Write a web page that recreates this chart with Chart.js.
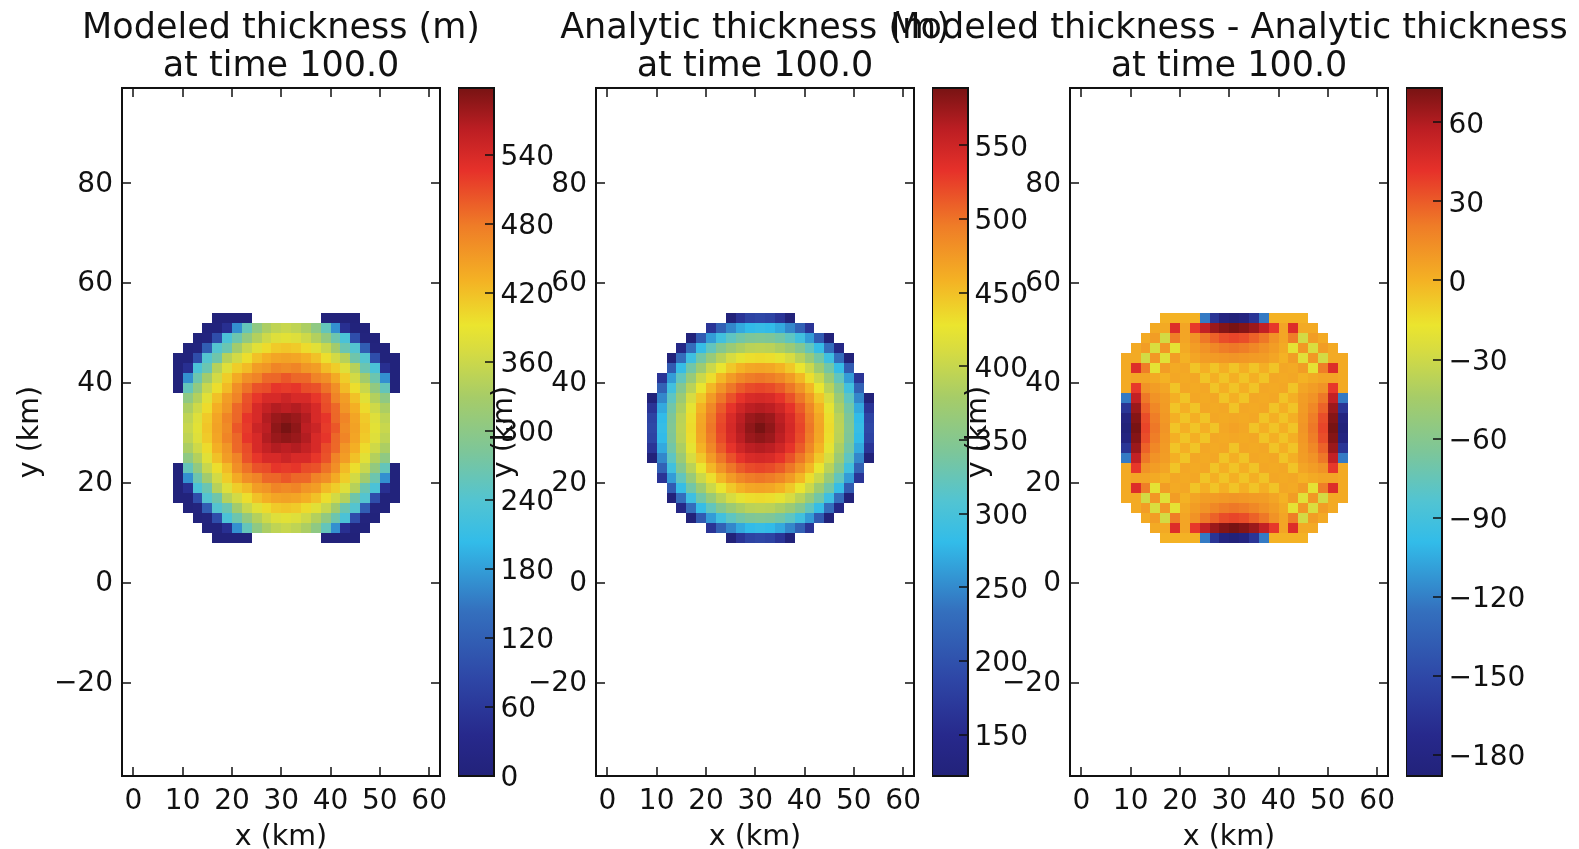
<!DOCTYPE html>
<html>
<head>
<meta charset="utf-8">
<script src="https://cdn.jsdelivr.net/npm/chart.js@4.4.0/dist/chart.umd.min.js"></script>
<style>
  html, body { margin: 0; padding: 0; background: #fff; overflow: hidden; }
  #page { position: relative; width: 1579px; height: 849px; overflow: hidden; background: #fff; }
  #page canvas { position: absolute; top: 0; }
</style>
</head>
<body>
<div id="page"></div>
<script>
const _ = null;

// cell centres (km), columns left to right, rows top to bottom
const xCells = [9, 11, 13, 15, 17, 19, 21, 23, 25, 27, 29, 31, 33, 35, 37, 39, 41, 43, 45, 47, 49, 51, 53];
const yCells = [53, 51, 49, 47, 45, 43, 41, 39, 37, 35, 33, 31, 29, 27, 25, 23, 21, 19, 17, 15, 13, 11, 9];
const cellSize = 2;

const xTicks = [0, 10, 20, 30, 40, 50, 60];
const yTicks = [-20, 0, 20, 40, 60, 80];
const modeledTicks = [0, 60, 120, 180, 240, 300, 360, 420, 480, 540];
const analyticTicks = [150, 200, 250, 300, 350, 400, 450, 500, 550];
const diffTicks = [-180, -150, -120, -90, -60, -30, 0, 30, 60];

const titles = [
  ['Modeled thickness (m)', 'at time 100.0'],
  ['Analytic thickness (m)', 'at time 100.0'],
  ['Modeled thickness - Analytic thickness', 'at time 100.0']
];

// modeled thickness (m)
const modeled = [
  [_,_,_,_,0,0,0,0,_,_,_,_,_,_,_,0,0,0,0,_,_,_,_],
  [_,_,_,3,3,45,169,257,303,334,350,357,350,334,303,257,169,45,3,3,_,_,_],
  [_,_,3,8,94,231,266,306,340,362,377,382,377,362,340,306,266,231,94,8,3,_,_],
  [_,3,8,116,241,264,324,357,381,399,412,416,412,399,381,357,324,264,241,116,8,3,_],
  [3,3,94,241,269,342,366,397,419,433,442,445,442,433,419,397,366,342,269,241,94,3,3],
  [3,45,231,264,342,378,410,424,449,455,470,465,470,455,449,424,410,378,342,264,231,45,3],
  [3,169,266,324,366,410,438,462,471,491,492,502,492,491,471,462,438,410,366,324,266,169,3],
  [3,257,306,357,397,424,462,485,505,509,524,520,524,509,505,485,462,424,397,357,306,257,3],
  [_,303,340,381,419,449,471,505,523,539,539,549,539,539,523,505,471,449,419,381,340,303,_],
  [_,334,362,399,433,455,491,509,539,555,567,561,567,555,539,509,491,455,433,399,362,334,_],
  [_,350,377,412,442,470,492,524,539,567,580,586,580,567,539,524,492,470,442,412,377,350,_],
  [_,357,382,416,445,465,502,520,549,561,586,598,586,561,549,520,502,465,445,416,382,357,_],
  [_,350,377,412,442,470,492,524,539,567,580,586,580,567,539,524,492,470,442,412,377,350,_],
  [_,334,362,399,433,455,491,509,539,555,567,561,567,555,539,509,491,455,433,399,362,334,_],
  [_,303,340,381,419,449,471,505,523,539,539,549,539,539,523,505,471,449,419,381,340,303,_],
  [3,257,306,357,397,424,462,485,505,509,524,520,524,509,505,485,462,424,397,357,306,257,3],
  [3,169,266,324,366,410,438,462,471,491,492,502,492,491,471,462,438,410,366,324,266,169,3],
  [3,45,231,264,342,378,410,424,449,455,470,465,470,455,449,424,410,378,342,264,231,45,3],
  [3,3,94,241,269,342,366,397,419,433,442,445,442,433,419,397,366,342,269,241,94,3,3],
  [_,3,8,116,241,264,324,357,381,399,412,416,412,399,381,357,324,264,241,116,8,3,_],
  [_,_,3,8,94,231,266,306,340,362,377,382,377,362,340,306,266,231,94,8,3,_,_],
  [_,_,_,3,3,45,169,257,303,334,350,357,350,334,303,257,169,45,3,3,_,_,_],
  [_,_,_,_,0,0,0,0,_,_,_,_,_,_,_,0,0,0,0,_,_,_,_]
];

// analytic thickness (m)
const analytic = [
  [_,_,_,_,_,_,_,_,122,164,183,188,183,164,122,_,_,_,_,_,_,_,_],
  [_,_,_,_,_,_,164,217,248,269,280,284,280,269,248,217,164,_,_,_,_,_,_],
  [_,_,_,_,122,211,261,294,318,334,343,346,343,334,318,294,261,211,122,_,_,_,_],
  [_,_,_,141,231,284,321,349,369,383,392,394,392,383,369,349,321,284,231,141,_,_,_],
  [_,_,122,231,291,334,366,392,411,424,432,434,432,424,411,392,366,334,291,231,122,_,_],
  [_,_,211,284,334,372,403,427,445,458,466,468,466,458,445,427,403,372,334,284,211,_,_],
  [_,164,261,321,366,403,432,455,474,487,495,498,495,487,474,455,432,403,366,321,261,164,_],
  [_,217,294,349,392,427,455,479,498,512,520,523,520,512,498,479,455,427,392,349,294,217,_],
  [122,248,318,369,411,445,474,498,517,532,542,545,542,532,517,498,474,445,411,369,318,248,122],
  [164,269,334,383,424,458,487,512,532,549,560,564,560,549,532,512,487,458,424,383,334,269,164],
  [183,280,343,392,432,466,495,520,542,560,574,579,574,560,542,520,495,466,432,392,343,280,183],
  [188,284,346,394,434,468,498,523,545,564,579,589,579,564,545,523,498,468,434,394,346,284,188],
  [183,280,343,392,432,466,495,520,542,560,574,579,574,560,542,520,495,466,432,392,343,280,183],
  [164,269,334,383,424,458,487,512,532,549,560,564,560,549,532,512,487,458,424,383,334,269,164],
  [122,248,318,369,411,445,474,498,517,532,542,545,542,532,517,498,474,445,411,369,318,248,122],
  [_,217,294,349,392,427,455,479,498,512,520,523,520,512,498,479,455,427,392,349,294,217,_],
  [_,164,261,321,366,403,432,455,474,487,495,498,495,487,474,455,432,403,366,321,261,164,_],
  [_,_,211,284,334,372,403,427,445,458,466,468,466,458,445,427,403,372,334,284,211,_,_],
  [_,_,122,231,291,334,366,392,411,424,432,434,432,424,411,392,366,334,291,231,122,_,_],
  [_,_,_,141,231,284,321,349,369,383,392,394,392,383,369,349,321,284,231,141,_,_,_],
  [_,_,_,_,122,211,261,294,318,334,343,346,343,334,318,294,261,211,122,_,_,_,_],
  [_,_,_,_,_,_,164,217,248,269,280,284,280,269,248,217,164,_,_,_,_,_,_],
  [_,_,_,_,_,_,_,_,122,164,183,188,183,164,122,_,_,_,_,_,_,_,_]
];

// modeled minus analytic (m)
const difference = [
  [_,_,_,_,0,0,0,0,-122,-164,-183,-188,-183,-164,-122,0,0,0,0,_,_,_,_],
  [_,_,_,3,3,45,5,40,55,65,70,73,70,65,55,40,5,45,3,3,_,_,_],
  [_,_,3,8,-28,20,5,12,22,28,34,36,34,28,22,12,5,20,-28,8,3,_,_],
  [_,3,8,-25,10,-20,3,8,12,16,20,22,20,16,12,8,3,-20,10,-25,8,3,_],
  [3,3,-28,10,-22,8,0,5,8,9,10,11,10,9,8,5,0,8,-22,10,-28,3,3],
  [3,45,20,-20,8,3,4,-6,1,-6,1,-6,1,-6,1,-6,4,3,8,-20,20,45,3],
  [3,5,5,3,0,4,3,4,-6,1,-6,1,-6,1,-6,4,3,4,0,3,5,5,3],
  [3,40,12,8,5,-6,4,3,4,-6,1,-6,1,-6,4,3,4,-6,5,8,12,40,3],
  [-122,55,22,12,8,1,-6,4,3,4,-6,1,-6,4,3,4,-6,1,8,12,22,55,-122],
  [-164,65,28,16,9,-6,1,-6,4,3,4,-6,4,3,4,-6,1,-6,9,16,28,65,-164],
  [-183,70,34,20,10,1,-6,1,-6,4,3,4,3,4,-6,1,-6,1,10,20,34,70,-183],
  [-188,73,36,22,11,-6,1,-6,1,-6,4,6,4,-6,1,-6,1,-6,11,22,36,73,-188],
  [-183,70,34,20,10,1,-6,1,-6,4,3,4,3,4,-6,1,-6,1,10,20,34,70,-183],
  [-164,65,28,16,9,-6,1,-6,4,3,4,-6,4,3,4,-6,1,-6,9,16,28,65,-164],
  [-122,55,22,12,8,1,-6,4,3,4,-6,1,-6,4,3,4,-6,1,8,12,22,55,-122],
  [3,40,12,8,5,-6,4,3,4,-6,1,-6,1,-6,4,3,4,-6,5,8,12,40,3],
  [3,5,5,3,0,4,3,4,-6,1,-6,1,-6,1,-6,4,3,4,0,3,5,5,3],
  [3,45,20,-20,8,3,4,-6,1,-6,1,-6,1,-6,1,-6,4,3,8,-20,20,45,3],
  [3,3,-28,10,-22,8,0,5,8,9,10,11,10,9,8,5,0,8,-22,10,-28,3,3],
  [_,3,8,-25,10,-20,3,8,12,16,20,22,20,16,12,8,3,-20,10,-25,8,3,_],
  [_,_,3,8,-28,20,5,12,22,28,34,36,34,28,22,12,5,20,-28,8,3,_,_],
  [_,_,_,3,3,45,5,40,55,65,70,73,70,65,55,40,5,45,3,3,_,_,_],
  [_,_,_,_,0,0,0,0,-122,-164,-183,-188,-183,-164,-122,0,0,0,0,_,_,_,_]
];

// jet-like colour map as it looks in the picture
const jetStops = [
  [0.00, '#22227a'], [0.06, '#27298c'], [0.14, '#2e46a6'], [0.24, '#3470be'],
  [0.34, '#32bce9'], [0.40, '#52c4d2'], [0.47, '#7cc69a'], [0.55, '#a6cc68'],
  [0.62, '#d8dc40'], [0.655, '#ebe52e'], [0.72, '#f4b224'], [0.80, '#ef7c27'],
  [0.88, '#e6312a'], [0.94, '#bc1e23'], [1.00, '#781313']
];

const ink = '#111';
const family = '"DejaVu Sans", sans-serif';
const panelLeft = [122, 596, 1070];
const plotW = 318;
const side = 341;
const tickLen = 9;

function rgb(hex) {
  return [1, 3, 5].map(i => parseInt(hex.slice(i, i + 2), 16));
}

function jet(t) {
  t = Math.max(0, Math.min(1, t));
  for (let i = 1; i < jetStops.length; i++) {
    const [t1, c1] = jetStops[i];
    const [t0, c0] = jetStops[i - 1];
    if (t <= t1) {
      const f = (t - t0) / (t1 - t0);
      const a = rgb(c0), b = rgb(c1);
      return 'rgb(' + a.map((v, k) => Math.round(v + (b[k] - v) * f)).join(',') + ')';
    }
  }
  return jetStops[jetStops.length - 1][1];
}

function fmt(v) {
  return String(v).replace('-', '\u2212');
}

const heatPlugin = {
  id: 'heat',
  beforeDatasetsDraw(chart, args, opts) {
    const {ctx, scales: {x, y}} = chart;
    const half = cellSize / 2;
    ctx.save();
    chart.data.datasets[0].data.forEach(p => {
      const x0 = Math.round(x.getPixelForValue(p.x - half));
      const x1 = Math.round(x.getPixelForValue(p.x + half));
      const y0 = Math.round(y.getPixelForValue(p.y + half));
      const y1 = Math.round(y.getPixelForValue(p.y - half));
      ctx.fillStyle = jet((p.v - opts.vmin) / (opts.vmax - opts.vmin));
      ctx.fillRect(x0, y0, x1 - x0, y1 - y0);
    });
    ctx.restore();
  },
  afterDraw(chart) {
    const {ctx, chartArea: a, scales: {x, y}} = chart;
    ctx.save();
    ctx.strokeStyle = ink;
    ctx.lineWidth = 1.5;
    ctx.beginPath();
    x.ticks.forEach(t => {
      const px = Math.round(x.getPixelForValue(t.value));
      ctx.moveTo(px, a.bottom); ctx.lineTo(px, a.bottom - tickLen);
      ctx.moveTo(px, a.top); ctx.lineTo(px, a.top + tickLen);
    });
    y.ticks.forEach(t => {
      const py = Math.round(y.getPixelForValue(t.value));
      ctx.moveTo(a.left, py); ctx.lineTo(a.left + tickLen, py);
      ctx.moveTo(a.right, py); ctx.lineTo(a.right - tickLen, py);
    });
    ctx.stroke();
    ctx.lineWidth = 2;
    ctx.strokeRect(a.left, a.top, a.right - a.left, a.bottom - a.top);
    ctx.restore();
  }
};

const cbarPlugin = {
  id: 'cbar',
  beforeDatasetsDraw(chart, args, opts) {
    const {ctx, chartArea: a, scales: {y}} = chart;
    const g = ctx.createLinearGradient(0, y.getPixelForValue(opts.vmin), 0, y.getPixelForValue(opts.vmax));
    jetStops.forEach(([t, c]) => g.addColorStop(t, c));
    ctx.save();
    ctx.fillStyle = g;
    ctx.fillRect(a.left, a.top, a.right - a.left, a.bottom - a.top);
    ctx.restore();
  },
  afterDraw(chart) {
    const {ctx, chartArea: a, scales: {y}} = chart;
    ctx.save();
    ctx.strokeStyle = ink;
    ctx.lineWidth = 1.5;
    ctx.beginPath();
    y.ticks.forEach(t => {
      const py = Math.round(y.getPixelForValue(t.value));
      ctx.moveTo(a.right, py); ctx.lineTo(a.right - tickLen, py);
    });
    ctx.stroke();
    ctx.lineWidth = 2;
    ctx.strokeRect(a.left, a.top, a.right - a.left, a.bottom - a.top);
    ctx.restore();
  }
};

function addCanvas(left, width) {
  const c = document.createElement('canvas');
  c.width = width; c.height = 849;
  c.style.left = left + 'px';
  c.style.width = width + 'px';
  c.style.height = '849px';
  document.getElementById('page').appendChild(c);
  return c;
}

function makePanel(i, grid, cbTicks) {
  const L = panelLeft[i];
  const cells = [];
  grid.forEach((row, r) => row.forEach((v, c) => {
    if (v !== null) cells.push({x: xCells[c], y: yCells[r], v: v});
  }));
  const vals = cells.map(p => p.v);
  const vmin = Math.min(...vals), vmax = Math.max(...vals);
  const tickFont = {family: family, size: 28};

  new Chart(addCanvas(L - side, 2 * side + plotW), {
    type: 'scatter',
    data: {datasets: [{data: cells, pointRadius: 0, pointHoverRadius: 0}]},
    options: {
      responsive: false, animation: false, events: [],
      layout: {padding: 0},
      plugins: {
        legend: {display: false},
        tooltip: {enabled: false},
        title: {
          display: true, text: titles[i], color: ink,
          font: {family: family, size: 35, weight: 'normal', lineHeight: 1.077},
          padding: {top: 10.5, bottom: 2.1}
        },
        heat: {vmin: vmin, vmax: vmax}
      },
      scales: {
        x: {
          type: 'linear', position: 'bottom', min: -2.3, max: 62.2,
          afterBuildTicks: s => { s.ticks = xTicks.map(v => ({value: v})); },
          afterFit: s => { s.height = 73; },
          grid: {display: false, drawTicks: false},
          border: {display: false},
          ticks: {autoSkip: false, maxRotation: 0, minRotation: 0, padding: 9, color: ink, font: tickFont, callback: fmt},
          title: {display: true, text: 'x (km)', color: ink, font: {family: family, size: 28.5, lineHeight: 1}, padding: {top: 0, bottom: -2.5}}
        },
        y: {
          type: 'linear', position: 'left', min: -38.7, max: 99.1,
          afterBuildTicks: s => { s.ticks = yTicks.map(v => ({value: v})); },
          afterFit: s => { s.width = side; },
          grid: {display: false, drawTicks: false},
          border: {display: false},
          ticks: {autoSkip: false, padding: 9, labelOffset: 1, color: ink, font: tickFont, callback: fmt},
          title: {display: true, text: 'y (km)', color: ink, font: {family: family, size: 28.5, lineHeight: 1}, padding: {top: side - 91.5 - 14.25, bottom: 0}}
        },
        yr: {
          type: 'linear', position: 'right', display: true,
          afterFit: s => { s.width = side; },
          grid: {display: false, drawTicks: false},
          border: {display: false},
          ticks: {display: false}
        }
      }
    },
    plugins: [heatPlugin]
  });

  new Chart(addCanvas(L + plotW + 18, 36 + 110), {
    type: 'scatter',
    data: {datasets: []},
    options: {
      responsive: false, animation: false, events: [],
      layout: {padding: {top: 88, bottom: 73, left: 0, right: 0}},
      plugins: {legend: {display: false}, tooltip: {enabled: false}, cbar: {vmin: vmin, vmax: vmax}},
      scales: {
        x: {display: false, min: 0, max: 1},
        y: {
          type: 'linear', position: 'right', min: vmin, max: vmax,
          afterBuildTicks: s => { s.ticks = cbTicks.map(v => ({value: v})); },
          afterFit: s => { s.width = 110; },
          grid: {display: false, drawTicks: false},
          border: {display: false},
          ticks: {autoSkip: false, padding: 6.5, labelOffset: 3, color: ink, font: tickFont, callback: fmt}
        }
      }
    },
    plugins: [cbarPlugin]
  });
}

makePanel(0, modeled, modeledTicks);
makePanel(1, analytic, analyticTicks);
makePanel(2, difference, diffTicks);
</script>
</body>
</html>
